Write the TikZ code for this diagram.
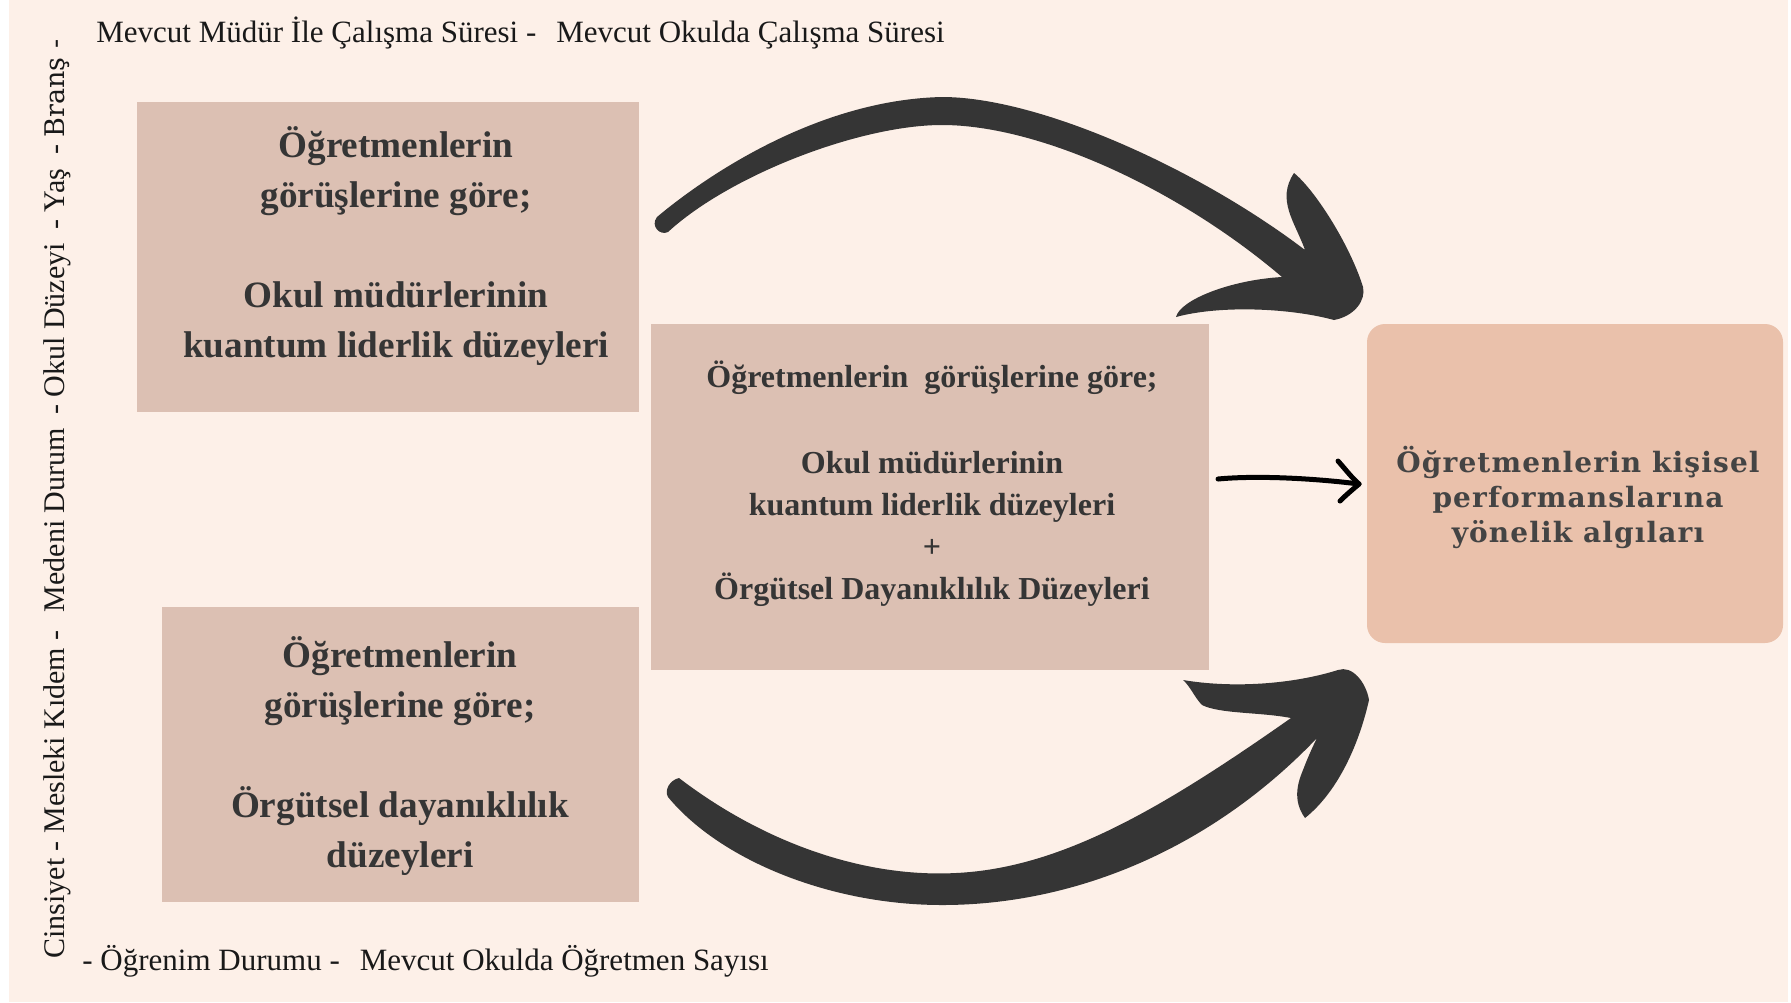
\documentclass[tikz,border=0pt]{standalone}
\usepackage{fontspec}
\setmainfont{Liberation Serif}
\newfontfamily\boxfont{Liberation Serif}
\newfontfamily\rfont[LetterSpace=4]{DejaVu Serif}
\newfontfamily\brfont{DejaVu Serif}
\definecolor{bg}{HTML}{FDF0E8}
\definecolor{boxc}{HTML}{DCC0B3}
\definecolor{rboxc}{HTML}{EAC1AB}
\definecolor{ink}{HTML}{353535}
\definecolor{rink}{HTML}{444444}
\tikzset{
  lbox/.style={fill=boxc, draw=none, inner sep=0pt},
  rbx/.style={fill=rboxc, draw=none, rounded corners=9pt, inner sep=0pt},
  btext/.style={font=\boxfont\bfseries\fontsize{18.6}{25}\selectfont, text=ink, align=center, inner sep=0pt},
  mtext/.style={font=\boxfont\bfseries\fontsize{16}{21}\selectfont, text=ink, align=center, inner sep=0pt},
  rtext/.style={font=\rfont\bfseries\fontsize{14}{17.5}\selectfont, text=rink, align=center, inner sep=0pt},
  lab/.style={font=\fontsize{15.5}{18}\selectfont, text=black!90, inner sep=0pt, anchor=base west},
  brush/.style={fill=ink, draw=none},
  pen/.style={draw=black, line width=2.5pt, line cap=round, line join=round},
}
\begin{document}
\begin{tikzpicture}[x=0.5pt,y=-0.5pt]
\useasboundingbox (0,0) rectangle (1791,1002);
\fill[white] (0,0) rectangle (1791,1002);
\fill[bg] (9,0) rectangle (1788,1002);

% boxes
\node[lbox, minimum width=251pt, minimum height=155pt] (b1) at (388,257) {};
\node[lbox, minimum width=238.5pt, minimum height=147.5pt] (b2) at (400.5,754.5) {};
\node[lbox, minimum width=279pt, minimum height=173pt] (bm) at (930,497) {};
\node[rbx, minimum width=208pt, minimum height=159.5pt] (br) at (1575,483.5) {};

% texts
\node[btext] (t1) at (396,246) {Öğretmenlerin\\görüşlerine göre;\\[25pt]Okul müdürlerinin\\kuantum liderlik düzeyleri};
\node[btext] (t2) at (400,756) {Öğretmenlerin\\görüşlerine göre;\\[25pt]Örgütsel dayanıklılık\\düzeyleri};
\node[mtext] (tm) at (932,484) {Öğretmenlerin\ \ görüşlerine göre;\\[22pt]Okul müdürlerinin\\kuantum liderlik düzeyleri\\+\\Örgütsel Dayanıklılık Düzeyleri};
\node[rtext] (tr) at (1578,497) {Öğretmenlerin kişisel\\performanslarına\\yönelik algıları};

% outer labels
\node[lab] (top) at (96,42) {Mevcut Müdür İle Çalışma Süresi -\hspace{10pt}Mevcut Okulda Çalışma Süresi};
\node[lab] (bot) at (82,970) {- Öğrenim Durumu -\hspace{10pt}Mevcut Okulda Öğretmen Sayısı};
\node[lab, rotate=90, font=\fontsize{15}{18}\selectfont] (left) at (64,959) {Cinsiyet - Mesleki Kıdem -\hspace{9pt}Medeni Durum\hspace{3pt} - Okul Düzeyi\hspace{3pt} - Yaş\hspace{3pt} - {\brfont\fontsize{13.5}{16}\selectfont Branş -}};

% big brush arrows
\coordinate (a1s) at (657,217);
\fill[brush] (a1s) .. controls (695,185) and (810,100) .. (942,97)
  .. controls (1040,97) and (1200,170) .. (1305,250)
  .. controls (1295,222) and (1276,200) .. (1294,173)
  .. controls (1315,190) and (1350,245) .. (1363,287)
  .. controls (1366,300) and (1355,316) .. (1334,320)
  .. controls (1290,308) and (1220,305) .. (1176,317)
  .. controls (1180,300) and (1230,280) .. (1282,277)
  .. controls (1180,190) and (1040,125) .. (942,125)
  .. controls (860,125) and (730,175) .. (668,232)
  .. controls (660,236) and (650,226) .. (a1s) -- cycle;

\coordinate (a2s) at (679,778);
\fill[brush] (a2s) .. controls (760,840) and (860,878) .. (956,873)
  .. controls (1060,868) and (1160,810) .. (1291,718)
  .. controls (1260,712) and (1220,714) .. (1202,705)
  .. controls (1195,698) and (1190,686) .. (1183,680)
  .. controls (1230,688) and (1290,685) .. (1338,670)
  .. controls (1352,665) and (1366,682) .. (1369,700)
  .. controls (1360,740) and (1340,790) .. (1305,818)
  .. controls (1292,800) and (1298,782) .. (1303,770)
  .. controls (1308,757) and (1312,748) .. (1317,738)
  .. controls (1215,845) and (1080,905) .. (942,905)
  .. controls (830,905) and (720,860) .. (668,797)
  .. controls (664,790) and (670,780) .. (a2s) -- cycle;

% thin middle arrow
\coordinate (ma) at (1218,479);
\coordinate (mb) at (1359,484);
\coordinate (mh1) at (1338,461);
\coordinate (mh2) at (1340,501);
\draw[pen] (ma) .. controls (1260,475) and (1320,479) .. (mb);
\draw[pen] (mh1) .. controls (1346,470) and (1352,478) .. (mb) .. controls (1352,490) and (1346,495) .. (mh2);
\end{tikzpicture}
\end{document}
